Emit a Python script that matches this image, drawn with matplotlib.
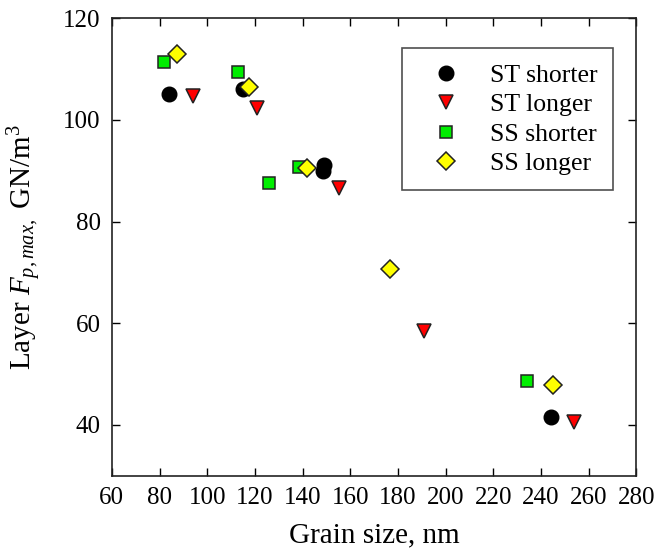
import matplotlib
matplotlib.use("Agg")
import matplotlib.pyplot as plt

plt.rcParams['font.family'] = ['Liberation Serif', 'DejaVu Serif']
plt.rcParams['mathtext.fontset'] = 'custom'
plt.rcParams['mathtext.rm'] = 'Liberation Serif'
plt.rcParams['mathtext.it'] = 'Liberation Serif:italic'

# Grain size (nm) and layer pinning force (GN/m^3) per sample group
st_shorter_x = [84.0, 115.1, 149.1, 148.5, 244.2]
st_shorter_y = [105.1, 106.0, 91.2, 89.9, 41.6]

st_longer_x = [93.9, 121.0, 155.4, 191.0, 253.9]
st_longer_y = [104.7, 102.3, 86.6, 58.5, 40.6]

ss_shorter_x = [82.0, 112.9, 138.6, 126.0, 234.1]
ss_shorter_y = [111.3, 109.4, 90.8, 87.5, 48.7]

ss_longer_x = [87.3, 117.5, 142.0, 176.7, 245.1]
ss_longer_y = [112.9, 106.4, 90.5, 70.6, 47.9]

x_ticks = [60, 80, 100, 120, 140, 160, 180, 200, 220, 240, 260, 280]
y_ticks = [40, 60, 80, 100, 120]

fig = plt.figure(figsize=(6.58, 5.5), dpi=100)
ax = fig.add_axes([0.170, 0.135, 0.797, 0.832])

ax.plot(st_shorter_x, st_shorter_y, 'o', ms=10.5, mfc='black', mec='black',
        mew=1.0, ls='none', label='ST shorter', zorder=3)
ax.plot(st_longer_x, st_longer_y, 'v', ms=10.5, mfc='#ff0000', mec='#222222',
        mew=1.1, ls='none', label='ST longer', zorder=3)
ax.plot(ss_shorter_x, ss_shorter_y, 's', ms=8.5, mfc='#00ee00', mec='#222222',
        mew=1.1, ls='none', label='SS shorter', zorder=3)
ax.plot(ss_longer_x, ss_longer_y, 'D', ms=8.8, mfc='#ffff00', mec='#222222',
        mew=1.1, ls='none', label='SS longer', zorder=4)

ax.set_xlim(60, 280)
ax.set_ylim(30, 120)
ax.set_xticks(x_ticks)
ax.set_yticks(y_ticks)
ax.tick_params(direction='in', length=6, width=1, top=True, right=True,
               labelsize=18, pad=8, colors='black')
for s in ax.spines.values():
    s.set_linewidth(1.2)
    s.set_color('#222222')

ax.set_xlabel('Grain size, nm', fontsize=21, labelpad=10)
ax.set_ylabel(r'Layer $F_{p,max,}$ GN/m$^3$', fontsize=21, labelpad=14)

leg = ax.legend(loc='upper right', bbox_to_anchor=(0.956, 0.934), fontsize=18.5,
                frameon=True, fancybox=False, edgecolor='#222222',
                handletextpad=0.55, labelspacing=0.25, borderpad=0.6,
                handlelength=2.3, borderaxespad=0)
leg.get_frame().set_linewidth(1.2)

fig.savefig('out.png', dpi=100)
